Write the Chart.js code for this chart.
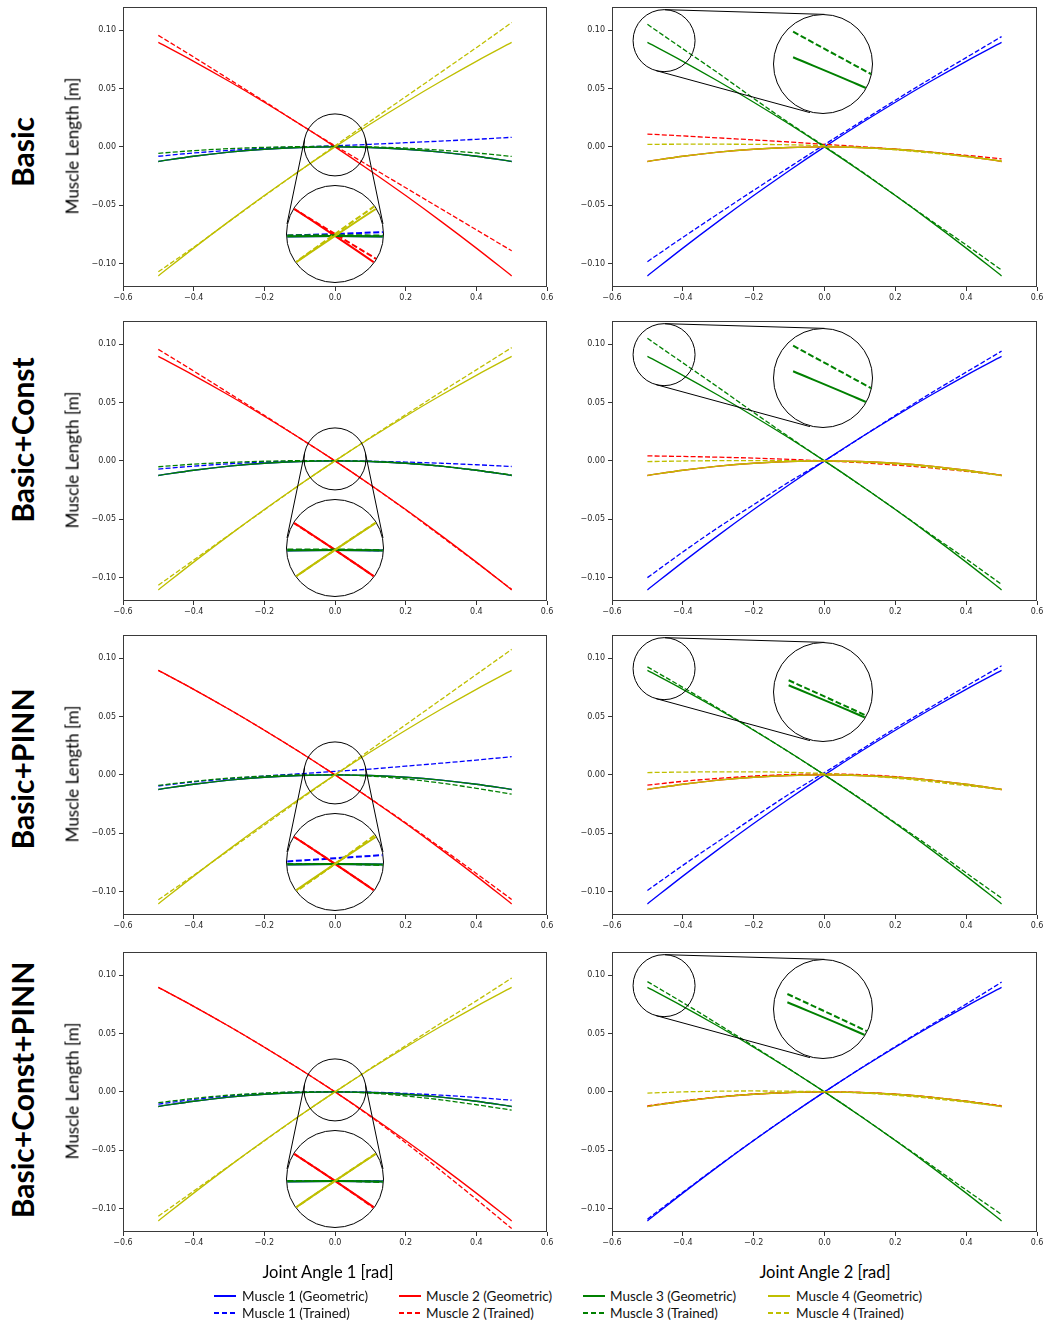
<!DOCTYPE html>
<html>
<head>
<meta charset="utf-8">
<script src="https://cdn.jsdelivr.net/npm/chart.js@4.4.1/dist/chart.umd.min.js"></script>
<style>
  body { margin: 0; background: #fff; }
  #fig { position: relative; width: 1045px; height: 1323px; overflow: hidden; background: #fff; font-family: Lato, "Open Sans", sans-serif; color: #000; }
  .rowlabel { position: absolute; font-weight: bold; font-size: 30px; white-space: nowrap; transform: translate(-50%, -50%) rotate(-90deg); }
  .ylabel { position: absolute; font-size: 17px; white-space: nowrap; transform: translate(-50%, -50%) rotate(-90deg); }
  .xlabel { position: absolute; font-size: 16.5px; white-space: nowrap; transform: translate(-50%, -50%); }
  .lens { position: absolute; border-radius: 50%; overflow: hidden; border: 1px solid #000; box-sizing: border-box; background: #fff; }
  .lg-line { position: absolute; width: 22px; height: 2px; }
  .lg-text { position: absolute; font-size: 13.5px; white-space: nowrap; transform: translateY(-50%); color: #111; }
</style>
</head>
<body>
<div id="fig"></div>
<script>
// ---- data ----
const angles = [-0.5, -0.4, -0.3, -0.2, -0.1, 0.0, 0.1, 0.2, 0.3, 0.4, 0.5];
const xTicks = [-0.6, -0.4, -0.2, 0.0, 0.2, 0.4, 0.6];
const yTicks = [-0.10, -0.05, 0.00, 0.05, 0.10];
const rowNames = ["Basic", "Basic+Const", "Basic+PINN", "Basic+Const+PINN"];
const jointTitles = ["Joint Angle 1 [rad]", "Joint Angle 2 [rad]"];
const muscleNames = ["Muscle 1", "Muscle 2", "Muscle 3", "Muscle 4"];

// geometric model, joint 1
const geoJ1M1 = [-0.0125, -0.0080, -0.0045, -0.0020, -0.0005, 0.0000, -0.0005, -0.0020, -0.0045, -0.0080, -0.0125];
const geoJ1M2 = [0.0895, 0.0733, 0.0562, 0.0383, 0.0196, 0.0000, -0.0204, -0.0417, -0.0638, -0.0867, -0.1105];
const geoJ1M3 = [-0.0125, -0.0080, -0.0045, -0.0020, -0.0005, 0.0000, -0.0005, -0.0020, -0.0045, -0.0080, -0.0125];
const geoJ1M4 = [-0.1105, -0.0867, -0.0638, -0.0417, -0.0204, 0.0000, 0.0196, 0.0383, 0.0562, 0.0733, 0.0895];
// geometric model, joint 2
const geoJ2M1 = [-0.1105, -0.0867, -0.0638, -0.0417, -0.0204, 0.0000, 0.0196, 0.0383, 0.0562, 0.0733, 0.0895];
const geoJ2M2 = [-0.0125, -0.0080, -0.0045, -0.0020, -0.0005, 0.0000, -0.0005, -0.0020, -0.0045, -0.0080, -0.0125];
const geoJ2M3 = [0.0895, 0.0733, 0.0562, 0.0383, 0.0196, 0.0000, -0.0204, -0.0417, -0.0638, -0.0867, -0.1105];
const geoJ2M4 = [-0.0125, -0.0080, -0.0045, -0.0020, -0.0005, 0.0000, -0.0005, -0.0020, -0.0045, -0.0080, -0.0125];

// trained: Basic
const basicJ1M1 = [-0.0080, -0.0052, -0.0030, -0.0012, 0.0000, 0.0010, 0.0022, 0.0036, 0.0050, 0.0065, 0.0082];
const basicJ1M2 = [0.0955, 0.0770, 0.0580, 0.0390, 0.0195, 0.0010, -0.0170, -0.0350, -0.0530, -0.0710, -0.0890];
const basicJ1M3 = [-0.0055, -0.0032, -0.0015, -0.0004, 0.0002, 0.0004, 0.0000, -0.0010, -0.0028, -0.0052, -0.0082];
const basicJ1M4 = [-0.1070, -0.0860, -0.0640, -0.0420, -0.0205, 0.0010, 0.0220, 0.0430, 0.0640, 0.0850, 0.1065];
const basicJ2M1 = [-0.0983, -0.0775, -0.0572, -0.0372, -0.0175, 0.0020, 0.0210, 0.0400, 0.0585, 0.0765, 0.0945];
const basicJ2M2 = [0.0110, 0.0094, 0.0077, 0.0060, 0.0042, 0.0022, 0.0002, -0.0020, -0.0045, -0.0072, -0.0102];
const basicJ2M3 = [0.1050, 0.0840, 0.0632, 0.0415, 0.0205, 0.0005, -0.0200, -0.0415, -0.0630, -0.0840, -0.1055];
const basicJ2M4 = [0.0022, 0.0023, 0.0023, 0.0022, 0.0018, 0.0010, -0.0005, -0.0025, -0.0052, -0.0083, -0.0118];
// trained: Basic+Const
const constJ1M1 = [-0.0070, -0.0045, -0.0025, -0.0010, -0.0002, 0.0000, -0.0003, -0.0010, -0.0020, -0.0033, -0.0048];
const constJ1M2 = [0.0955, 0.0770, 0.0580, 0.0390, 0.0195, 0.0000, -0.0205, -0.0420, -0.0645, -0.0870, -0.1100];
const constJ1M3 = [-0.0050, -0.0028, -0.0013, -0.0003, 0.0002, 0.0002, -0.0004, -0.0020, -0.0045, -0.0080, -0.0120];
const constJ1M4 = [-0.1065, -0.0850, -0.0635, -0.0420, -0.0205, 0.0000, 0.0200, 0.0395, 0.0590, 0.0780, 0.0970];
const constJ2M1 = [-0.1000, -0.0780, -0.0570, -0.0375, -0.0180, 0.0000, 0.0195, 0.0390, 0.0580, 0.0760, 0.0940];
const constJ2M2 = [0.0043, 0.0038, 0.0032, 0.0024, 0.0013, 0.0000, -0.0015, -0.0035, -0.0060, -0.0090, -0.0122];
const constJ2M3 = [0.1050, 0.0840, 0.0630, 0.0415, 0.0205, 0.0000, -0.0205, -0.0415, -0.0630, -0.0840, -0.1058];
const constJ2M4 = [-0.0006, -0.0001, 0.0002, 0.0003, 0.0002, 0.0000, -0.0010, -0.0028, -0.0055, -0.0088, -0.0125];
// trained: Basic+PINN
const pinnJ1M1 = [-0.0095, -0.0060, -0.0033, -0.0010, 0.0010, 0.0030, 0.0050, 0.0075, 0.0100, 0.0127, 0.0156];
const pinnJ1M2 = [0.0895, 0.0733, 0.0562, 0.0383, 0.0196, 0.0000, -0.0203, -0.0410, -0.0625, -0.0845, -0.1067];
const pinnJ1M3 = [-0.0090, -0.0055, -0.0028, -0.0010, 0.0000, 0.0000, -0.0010, -0.0035, -0.0070, -0.0115, -0.0165];
const pinnJ1M4 = [-0.1070, -0.0860, -0.0645, -0.0430, -0.0213, 0.0000, 0.0215, 0.0430, 0.0645, 0.0860, 0.1075];
const pinnJ2M1 = [-0.0990, -0.0775, -0.0570, -0.0365, -0.0165, 0.0020, 0.0210, 0.0400, 0.0580, 0.0760, 0.0935];
const pinnJ2M2 = [-0.0088, -0.0055, -0.0030, -0.0010, 0.0003, 0.0008, 0.0002, -0.0015, -0.0045, -0.0085, -0.0125];
const pinnJ2M3 = [0.0925, 0.0750, 0.0570, 0.0385, 0.0195, 0.0000, -0.0200, -0.0410, -0.0620, -0.0840, -0.1055];
const pinnJ2M4 = [0.0020, 0.0024, 0.0026, 0.0026, 0.0022, 0.0012, -0.0005, -0.0028, -0.0058, -0.0092, -0.0125];
// trained: Basic+Const+PINN
const allJ1M1 = [-0.0105, -0.0065, -0.0035, -0.0013, -0.0002, 0.0000, -0.0003, -0.0013, -0.0028, -0.0048, -0.0071];
const allJ1M2 = [0.0895, 0.0733, 0.0562, 0.0383, 0.0196, 0.0000, -0.0210, -0.0435, -0.0675, -0.0920, -0.1170];
const allJ1M3 = [-0.0092, -0.0056, -0.0028, -0.0010, 0.0000, 0.0000, -0.0010, -0.0035, -0.0068, -0.0110, -0.0156];
const allJ1M4 = [-0.1065, -0.0850, -0.0635, -0.0420, -0.0205, 0.0000, 0.0200, 0.0395, 0.0590, 0.0780, 0.0975];
const allJ2M1 = [-0.1090, -0.0860, -0.0635, -0.0415, -0.0203, 0.0000, 0.0198, 0.0388, 0.0572, 0.0752, 0.0940];
const allJ2M2 = [-0.0120, -0.0077, -0.0043, -0.0019, -0.0005, 0.0000, -0.0005, -0.0020, -0.0045, -0.0080, -0.0118];
const allJ2M3 = [0.0945, 0.0765, 0.0580, 0.0390, 0.0197, 0.0000, -0.0203, -0.0415, -0.0625, -0.0840, -0.1050];
const allJ2M4 = [-0.0010, 0.0000, 0.0006, 0.0008, 0.0006, 0.0002, -0.0008, -0.0028, -0.0055, -0.0088, -0.0125];

// tables built from the arrays above
const geoSets = [[geoJ1M1, geoJ1M2, geoJ1M3, geoJ1M4], [geoJ2M1, geoJ2M2, geoJ2M3, geoJ2M4]];
const trainedSets = [
  [[basicJ1M1, basicJ1M2, basicJ1M3, basicJ1M4], [basicJ2M1, basicJ2M2, basicJ2M3, basicJ2M4]],
  [[constJ1M1, constJ1M2, constJ1M3, constJ1M4], [constJ2M1, constJ2M2, constJ2M3, constJ2M4]],
  [[pinnJ1M1, pinnJ1M2, pinnJ1M3, pinnJ1M4], [pinnJ2M1, pinnJ2M2, pinnJ2M3, pinnJ2M4]],
  [[allJ1M1, allJ1M2, allJ1M3, allJ1M4], [allJ2M1, allJ2M2, allJ2M3, allJ2M4]]
];

// ---- layout / style ----
const colors = ["#0000ff", "#ff0000", "#008000", "#bfbf00"];
const XW = 45, PT = 6, PR = 14, XH = 22;
const colLeft = [123, 612], colWidth = [424, 425];
const rowTop = [5, 319, 633, 950], rowHeight = 282;
const rowLabelY = [152, 440, 769, 1090];

// magnifier: small circle (s), big circle (b), zoomed view window (view)
const lensCfg = [
  { sx: 0.0, sy: 0.0017, r1: 31, bx: 0.0, by: -0.0745, r2: 49,
    viewX: [0.0, 0.0, 0.0, 0.0], viewY: 0.001, xHalf: 0.087, yHalf: 0.026 },
  { sx: -0.453, sy: 0.091, r1: 31, bx: -0.004, by: 0.0707, r2: 50,
    viewX: [-0.453, -0.453, -0.446, -0.444], viewY: 0.0854, xHalf: 0.0786, yHalf: 0.0303 }
];

const fig = document.getElementById("fig");

function pts(ys) {
  return angles.map((x, i) => ({ x: x, y: ys[i] }));
}

function fmt(v, d) {
  if (Math.abs(v) < 1e-9) v = 0;
  return v.toFixed(d).replace("-", "\u2212");
}

function buildDatasets(geo, trained, lw, dash) {
  const out = [];
  for (let m = 0; m < 4; m++) {
    out.push({ data: pts(geo[m]), borderColor: colors[m], borderWidth: lw });
    out.push({ data: pts(trained[m]), borderColor: colors[m], borderWidth: lw, borderDash: dash });
  }
  out.forEach((ds, i) => {
    ds.order = 50 - i;
    ds.pointRadius = 0;
    ds.fill = false;
    ds.cubicInterpolationMode = "monotone";
  });
  return out;
}

const lensPlugin = {
  id: "lensPlugin",
  afterDatasetsDraw(chart, args, opts) {
    const { ctx, scales } = chart;
    const L = opts.lens;
    const sx = scales.x.getPixelForValue(L.sx), sy = scales.y.getPixelForValue(L.sy);
    const bx = scales.x.getPixelForValue(L.bx), by = scales.y.getPixelForValue(L.by);
    ctx.save();
    ctx.strokeStyle = "#000";
    ctx.lineWidth = 1;
    ctx.beginPath();
    ctx.arc(sx, sy, L.r1, 0, Math.PI * 2);
    ctx.stroke();
    // outer tangents between the two circles
    const dx = bx - sx, dy = by - sy, d = Math.hypot(dx, dy);
    const ux = dx / d, uy = dy / d, k = (L.r2 - L.r1) / d, s = Math.sqrt(1 - k * k);
    [1, -1].forEach(sg => {
      const nx = ux * k - sg * uy * s, ny = uy * k + sg * ux * s;
      ctx.beginPath();
      ctx.moveTo(sx - L.r1 * nx, sy - L.r1 * ny);
      ctx.lineTo(bx - L.r2 * nx, by - L.r2 * ny);
      ctx.stroke();
    });
    ctx.restore();
  },
  afterDraw(chart) {
    const { ctx, chartArea: a } = chart;
    ctx.save();
    ctx.strokeStyle = "#3a3a3a";
    ctx.lineWidth = 1;
    ctx.strokeRect(Math.round(a.left) + 0.5, Math.round(a.top) + 0.5, Math.round(a.width) - 1, Math.round(a.height) - 1);
    ctx.restore();
  }
};

function axisOpts(ticks, digits, min, max, isX) {
  return {
    type: "linear",
    min: min,
    max: max,
    afterBuildTicks: s => { s.ticks = ticks.map(v => ({ value: v })); },
    afterFit: s => { if (isX) s.height = XH; else s.width = XW; },
    grid: { drawOnChartArea: false, drawTicks: true, tickLength: 4, color: "#333", lineWidth: 1 },
    border: { display: false },
    ticks: {
      autoSkip: false, maxRotation: 0, padding: isX ? 2 : 3,
      color: "#262626", font: { family: "DejaVu Sans", size: 8 },
      callback: v => fmt(v, digits)
    }
  };
}

function makePanel(r, c) {
  const x0 = colLeft[c], y0 = rowTop[r], w = colWidth[c], h = rowHeight;
  const cw = w + XW + PR, chh = h + PT + XH;
  const cv = document.createElement("canvas");
  cv.width = cw; cv.height = chh;
  cv.style.cssText = "position:absolute;left:" + (x0 - XW) + "px;top:" + (y0 - PT) + "px;width:" + cw + "px;height:" + chh + "px;";
  fig.appendChild(cv);
  const L = lensCfg[c];
  const chart = new Chart(cv, {
    type: "line",
    data: { datasets: buildDatasets(geoSets[c], trainedSets[r][c], 1.3, [5, 2.2]) },
    options: {
      responsive: false, animation: false, devicePixelRatio: 1, events: [],
      layout: { padding: { top: PT, right: PR, left: 0, bottom: 0 } },
      plugins: { legend: { display: false }, tooltip: { enabled: false }, lensPlugin: { lens: L } },
      scales: {
        x: axisOpts(xTicks, 1, -0.6, 0.6, true),
        y: axisOpts(yTicks, 2, -0.12, 0.12, false)
      }
    },
    plugins: [lensPlugin]
  });

  // zoomed view inside the big circle
  const px = x0 - XW + chart.scales.x.getPixelForValue(L.bx);
  const py = y0 - PT + chart.scales.y.getPixelForValue(L.by);
  const D = 2 * L.r2;
  const wrap = document.createElement("div");
  wrap.className = "lens";
  wrap.style.cssText = "left:" + (px - L.r2) + "px;top:" + (py - L.r2) + "px;width:" + D + "px;height:" + D + "px;";
  const ic = document.createElement("canvas");
  ic.width = D; ic.height = D;
  ic.style.cssText = "position:absolute;left:-1px;top:-1px;width:" + D + "px;height:" + D + "px;";
  wrap.appendChild(ic);
  fig.appendChild(wrap);
  const vx = L.viewX[r];
  new Chart(ic, {
    type: "line",
    data: { datasets: buildDatasets(geoSets[c], trainedSets[r][c], 2.0, [6, 2.6]) },
    options: {
      responsive: false, animation: false, devicePixelRatio: 1, events: [],
      layout: { padding: 0 },
      plugins: { legend: { display: false }, tooltip: { enabled: false } },
      scales: {
        x: { type: "linear", display: false, min: vx - L.xHalf, max: vx + L.xHalf },
        y: { type: "linear", display: false, min: L.viewY - L.yHalf, max: L.viewY + L.yHalf }
      }
    }
  });
}

function addText(cls, text, x, y) {
  const el = document.createElement("div");
  el.className = cls;
  el.textContent = text;
  el.style.left = x + "px";
  el.style.top = y + "px";
  fig.appendChild(el);
  return el;
}

rowNames.forEach((name, r) => {
  makePanel(r, 0);
  makePanel(r, 1);
  addText("rowlabel", name, 22, rowLabelY[r]);
  addText("ylabel", "Muscle Length [m]", 72, rowTop[r] + rowHeight / 2);
});

addText("xlabel", jointTitles[0], 328, 1272);
addText("xlabel", jointTitles[1], 825, 1272);

// legend
const lgLineX = [214, 399, 583, 768];
const lgTextX = [242, 426, 610, 796];
const lgRowY = [1296, 1313];
muscleNames.forEach((mn, m) => {
  ["Geometric", "Trained"].forEach((kind, k) => {
    const ln = document.createElement("div");
    ln.className = "lg-line";
    ln.style.left = lgLineX[m] + "px";
    ln.style.top = (lgRowY[k] - 1) + "px";
    ln.style.background = k === 0 ? colors[m]
      : "repeating-linear-gradient(90deg," + colors[m] + " 0 5px, transparent 5px 8px)";
    fig.appendChild(ln);
    addText("lg-text", mn + " (" + kind + ")", lgTextX[m], lgRowY[k]);
  });
});
</script>
</body>
</html>
